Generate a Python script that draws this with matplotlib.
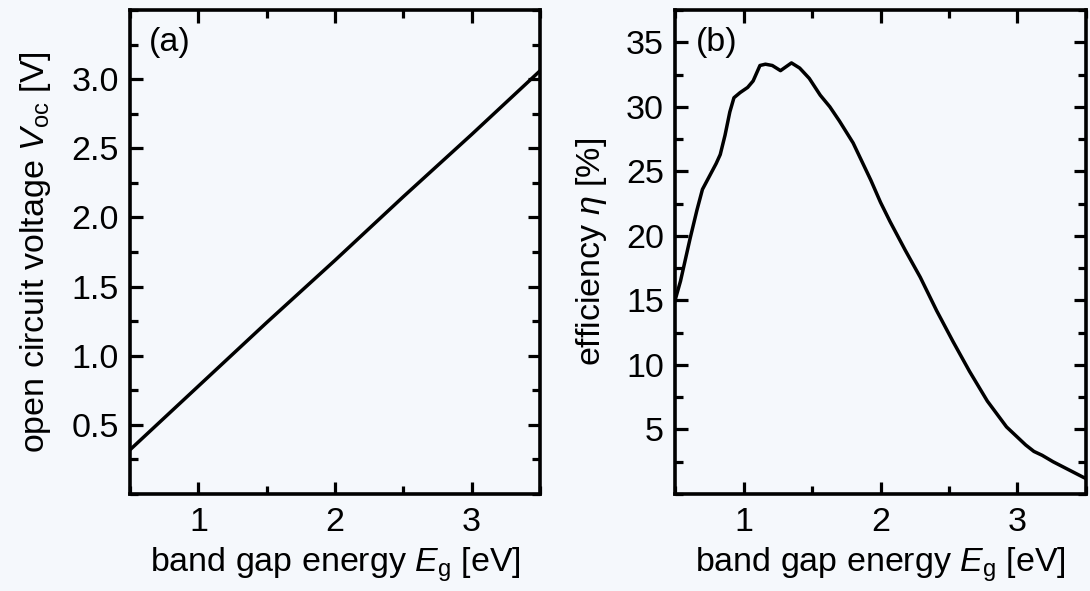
import matplotlib
matplotlib.use('Agg')
import matplotlib.pyplot as plt
from matplotlib.ticker import MultipleLocator, FixedLocator

# panel (a): open circuit voltage vs band gap
eg_a = [0.5, 1.0, 1.5, 2.0, 2.5, 3.0, 3.5]
voc = [0.32, 0.78, 1.24, 1.69, 2.15, 2.60, 3.06]

# panel (b): efficiency vs band gap
eg_b = [0.50, 0.54, 0.61, 0.66, 0.70, 0.755, 0.80, 0.83, 0.865, 0.90, 0.93, 0.975,
        1.03, 1.07, 1.12, 1.16, 1.21, 1.27, 1.31, 1.35, 1.41, 1.48,
        1.56, 1.63, 1.70, 1.80, 1.93, 2.00, 2.07, 2.18, 2.29, 2.41, 2.53,
        2.65, 2.78, 2.92, 3.00, 3.06, 3.12, 3.18, 3.26, 3.37, 3.48, 3.5]
eff = [15.0, 16.5, 19.8, 22.0, 23.6, 24.7, 25.6, 26.3, 27.8, 29.6, 30.7, 31.1,
       31.5, 32.0, 33.2, 33.3, 33.2, 32.8, 33.1, 33.4, 33.0, 32.2,
       30.9, 30.0, 28.9, 27.2, 24.3, 22.6, 21.1, 18.9, 16.8, 14.2, 11.8,
       9.5, 7.2, 5.2, 4.4, 3.8, 3.3, 3.0, 2.5, 1.9, 1.3, 1.2]

bg = '#f5f8fc'
plt.rcParams['font.family'] = ['Liberation Sans', 'DejaVu Sans']
plt.rcParams['mathtext.fontset'] = 'custom'
plt.rcParams['mathtext.rm'] = 'Liberation Sans'
plt.rcParams['mathtext.it'] = 'Liberation Sans:italic'
fs = 24.5

fig = plt.figure(figsize=(10.9, 5.91), dpi=100, facecolor=bg)
ax_a = fig.add_axes([0.1193, 0.1641, 0.3761, 0.819])
ax_b = fig.add_axes([0.6193, 0.1641, 0.3770, 0.819])


def style(ax):
    ax.set_facecolor(bg)
    for s in ax.spines.values():
        s.set_linewidth(2.6)
    ax.tick_params(which='both', direction='in', top=True, right=True, width=2.3)
    ax.tick_params(which='major', length=9)
    ax.tick_params(which='minor', length=5.5)
    ax.tick_params(axis='x', pad=9, labelsize=fs)
    ax.tick_params(axis='y', pad=8, labelsize=fs)
    ax.set_xlim(0.5, 3.5)
    ax.xaxis.set_major_locator(FixedLocator([1, 2, 3]))
    ax.xaxis.set_minor_locator(MultipleLocator(0.5))
    ax.set_xlabel(r'band gap energy $E_\mathrm{g}$ [eV]', fontsize=fs, labelpad=6)


style(ax_a)
ax_a.plot(eg_a, voc, color='black', linewidth=2.5)
ax_a.set_ylim(0, 3.5)
ax_a.yaxis.set_major_locator(FixedLocator([0.5, 1.0, 1.5, 2.0, 2.5, 3.0]))
ax_a.yaxis.set_minor_locator(MultipleLocator(0.25))
ax_a.yaxis.set_major_formatter(matplotlib.ticker.FormatStrFormatter('%.1f'))
ax_a.set_ylabel(r'open circuit voltage $V_\mathrm{oc}$ [V]', fontsize=fs, labelpad=13)
ax_a.text(0.045, 0.965, '(a)', transform=ax_a.transAxes, fontsize=fs, va='top', ha='left')

style(ax_b)
ax_b.plot(eg_b, eff, color='black', linewidth=2.5, solid_joinstyle='round')
ax_b.set_ylim(0, 37.5)
ax_b.yaxis.set_major_locator(FixedLocator([5, 10, 15, 20, 25, 30, 35]))
ax_b.yaxis.set_minor_locator(MultipleLocator(2.5))
ax_b.set_ylabel(r'efficiency $\eta$ [%]', fontsize=fs, labelpad=12)
ax_b.text(0.05, 0.965, '(b)', transform=ax_b.transAxes, fontsize=fs, va='top', ha='left')

fig.savefig('out.png', dpi=100, facecolor=bg)
